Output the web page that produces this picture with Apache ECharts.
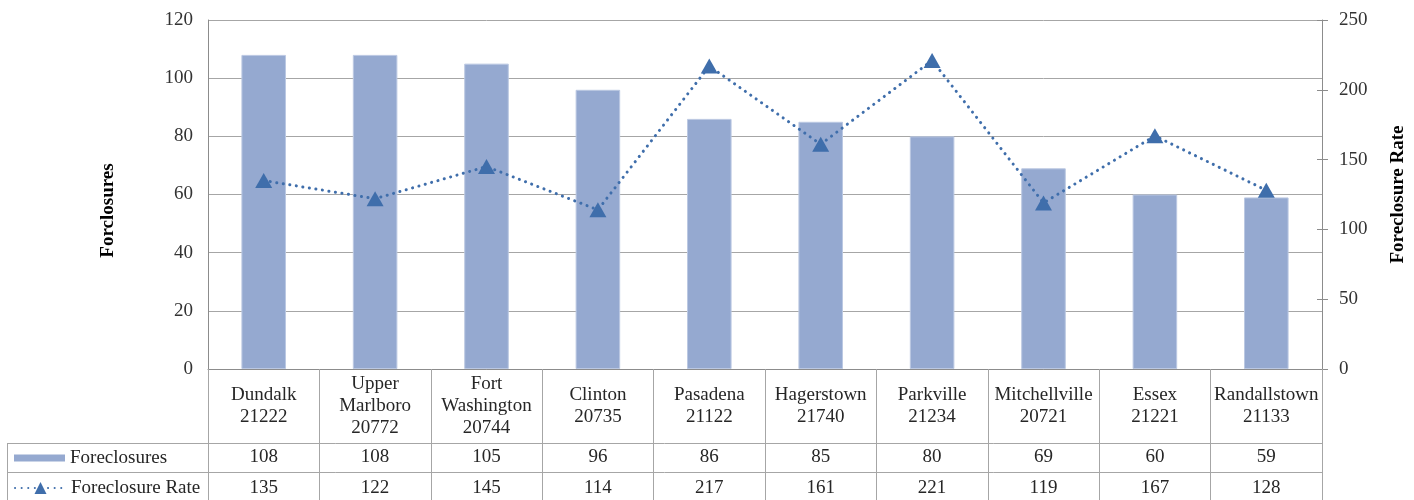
<!DOCTYPE html>
<html>
<head>
<meta charset="utf-8">
<script src="https://cdn.jsdelivr.net/npm/echarts@6/dist/echarts.min.js"></script>
<style>
html,body{margin:0;padding:0;background:#fff;}
#chart{width:1414px;height:500px;}
</style>
</head>
<body>
<div id="chart"></div>
<script>
// ---- data ----
const cityNames = ['Dundalk', 'Upper\nMarlboro', 'Fort\nWashington', 'Clinton', 'Pasadena', 'Hagerstown', 'Parkville', 'Mitchellville', 'Essex', 'Randallstown'];
const zipCodes = ['21222', '20772', '20744', '20735', '21122', '21740', '21234', '20721', '21221', '21133'];
const foreclosures = [108, 108, 105, 96, 86, 85, 80, 69, 60, 59];
const foreclosureRate = [135, 122, 145, 114, 217, 161, 221, 119, 167, 128];
const leftTicks = { min: 0, max: 120, interval: 20 };
const rightTicks = { min: 0, max: 250, interval: 50 };

const categories = cityNames.map((n, i) => n + '\n' + zipCodes[i]);

const FONT = '"Liberation Serif", "Times New Roman", serif';
const gridColor = '#A6A6A6';
const axisColor = '#8C8C8C';
const barColor = '#95A9D0';
const lineColor = '#3F6EAB';

const chart = echarts.init(document.getElementById('chart'), null, { renderer: 'canvas' });

const tableAxis = (arr, margin) => ({
  type: 'category',
  data: categories,
  position: 'bottom',
  gridIndex: 0,
  axisLine: { show: false },
  axisTick: { show: false },
  splitLine: { show: false },
  axisLabel: {
    interval: 0,
    margin: margin,
    verticalAlign: 'middle',
    fontFamily: FONT,
    fontSize: 19,
    color: '#262626',
    formatter: (v, i) => String(arr[i])
  }
});

chart.setOption({
  animation: false,
  backgroundColor: '#fff',
  grid: { left: 208, right: 92, top: 20, bottom: 131, containLabel: false, outerBoundsMode: 'none' },
  legend: [
    {
      data: ['Foreclosures'],
      orient: 'vertical',
      left: 14, top: 448, padding: 0,
      icon: 'rect',
      itemWidth: 51, itemHeight: 7,
      itemStyle: { borderWidth: 0 },
      textStyle: { fontFamily: FONT, fontSize: 19, color: '#262626', lineHeight: 20 }
    },
    {
      data: ['Foreclosure Rate'],
      orient: 'vertical',
      left: 14, top: 478, padding: 0,
      itemWidth: 51, itemHeight: 15,
      textStyle: { fontFamily: FONT, fontSize: 19, color: '#262626', lineHeight: 20 }
    }
  ],
  xAxis: [
    {
      type: 'category',
      data: categories,
      axisLine: { show: true, lineStyle: { color: axisColor, width: 1 } },
      axisTick: { show: true, alignWithLabel: false, length: 131, lineStyle: { color: gridColor, width: 1 } },
      axisLabel: {
        interval: 0,
        margin: 37,
        verticalAlign: 'middle',
        fontFamily: FONT,
        fontSize: 19,
        lineHeight: 22,
        color: '#262626'
      }
    },
    tableAxis(foreclosures, 88),
    tableAxis(foreclosureRate, 119)
  ],
  yAxis: [
    {
      type: 'value',
      min: leftTicks.min, max: leftTicks.max, interval: leftTicks.interval,
      name: 'Forclosures',
      nameLocation: 'middle',
      nameRotate: 90,
      nameGap: 90,
      nameTextStyle: { fontFamily: FONT, fontSize: 19, fontWeight: 'bold', color: '#000', padding: [0, 32, 0, 0] },
      axisLine: { show: true, lineStyle: { color: axisColor } },
      axisTick: { show: false },
      splitLine: { show: true, lineStyle: { color: gridColor, width: 1 } },
      axisLabel: { margin: 15, fontFamily: FONT, fontSize: 19, color: '#333' }
    },
    {
      type: 'value',
      position: 'right',
      min: rightTicks.min, max: rightTicks.max, interval: rightTicks.interval,
      name: 'Foreclosure Rate',
      nameLocation: 'middle',
      nameRotate: 90,
      nameGap: 67,
      nameTextStyle: { fontFamily: FONT, fontSize: 19, fontWeight: 'bold', color: '#000' },
      axisLine: { show: true, lineStyle: { color: axisColor } },
      axisTick: { show: true, inside: false, length: 6, lineStyle: { color: axisColor } },
      splitLine: { show: false },
      axisLabel: { margin: 17, fontFamily: FONT, fontSize: 19, color: '#333' }
    },
    {
      type: 'value',
      position: 'right',
      min: rightTicks.min, max: rightTicks.max, interval: rightTicks.interval,
      axisLine: { show: false },
      axisTick: { show: true, inside: true, length: 5, lineStyle: { color: axisColor } },
      splitLine: { show: false },
      axisLabel: { show: false }
    }
  ],
  graphic: [
    { type: 'line', silent: true, shape: { x1: 7, y1: 443.5, x2: 1322, y2: 443.5 }, style: { stroke: gridColor, lineWidth: 1 } },
    { type: 'line', silent: true, shape: { x1: 7, y1: 472.5, x2: 1322, y2: 472.5 }, style: { stroke: gridColor, lineWidth: 1 } },
    { type: 'line', silent: true, shape: { x1: 7.5, y1: 443, x2: 7.5, y2: 500 }, style: { stroke: gridColor, lineWidth: 1 } }
  ],
  series: [
    {
      name: 'Foreclosures',
      type: 'bar',
      xAxisIndex: 0, yAxisIndex: 0,
      data: foreclosures,
      barWidth: '40%',
      itemStyle: { color: barColor, borderColor: '#BBC8E2', borderWidth: 1 }
    },
    {
      name: 'Foreclosure Rate',
      type: 'line',
      xAxisIndex: 0, yAxisIndex: 1,
      data: foreclosureRate,
      symbol: 'triangle',
      symbolSize: [17, 15],
      itemStyle: { color: lineColor },
      lineStyle: { color: lineColor, width: 3, type: [0.1, 6.5], cap: 'round' },
      z: 5
    }
  ]
});
</script>
</body>
</html>
